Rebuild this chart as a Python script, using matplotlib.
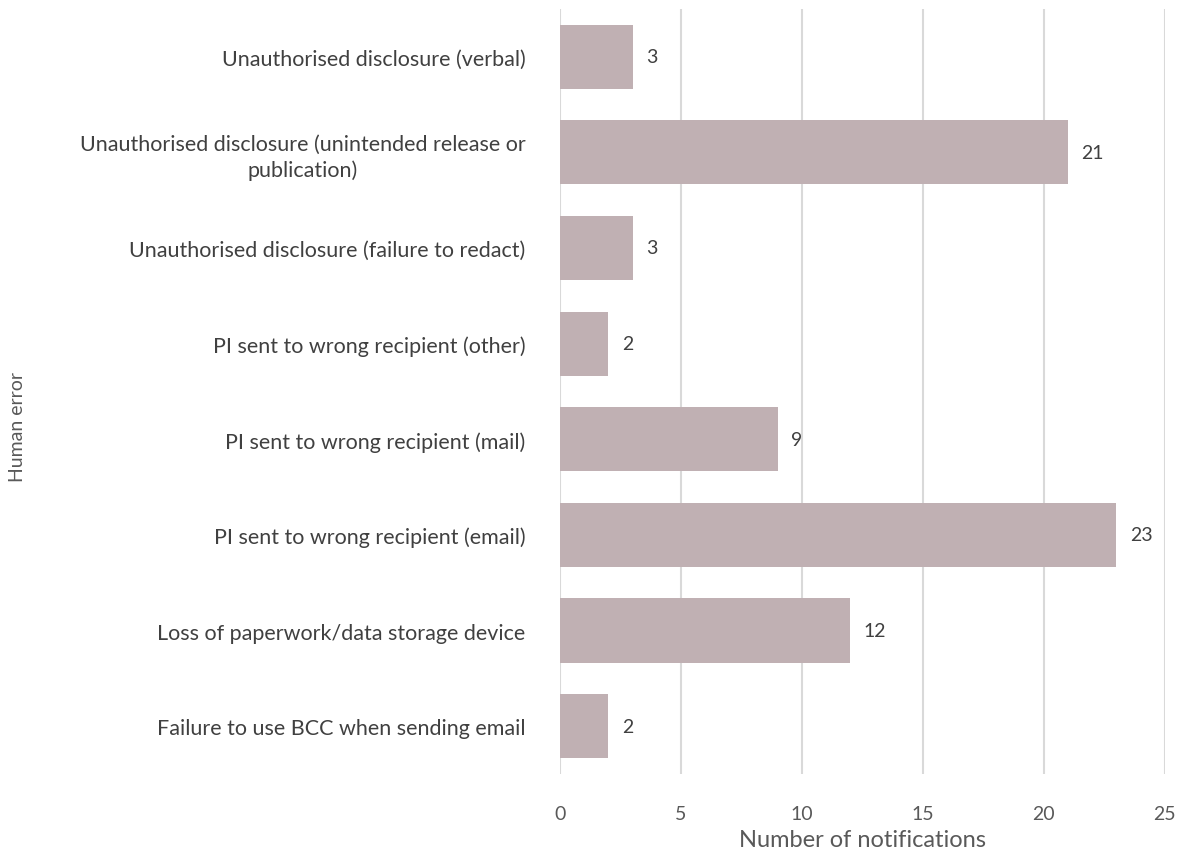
import matplotlib.pyplot as plt
import numpy as np

categorias = [
    "Unauthorised disclosure (verbal)",
    "Unauthorised disclosure (unintended release or\npublication)",
    "Unauthorised disclosure (failure to redact)",
    "PI sent to wrong recipient (other)",
    "PI sent to wrong recipient (mail)",
    "PI sent to wrong recipient (email)",
    "Loss of paperwork/data storage device",
    "Failure to use BCC when sending email",
]
valores = [3, 21, 3, 2, 9, 23, 12, 2]
ticks_x = [0, 5, 10, 15, 20, 25]

plt.rcParams['font.family'] = ['Lato', 'DejaVu Sans']

fig = plt.figure(figsize=(11.79, 8.54), dpi=100)
ax = fig.add_axes([0.475, 0.0925, 0.513, 0.896])

y = np.arange(len(categorias))
ax.barh(y, valores, height=0.67, color='#C0B0B3', zorder=3)

# rótulos com os valores
for i, v in enumerate(valores):
    ax.text(v + 0.55, i, str(v), va='center', ha='left', fontsize=14, color='#404040')

ax.set_ylim(len(categorias) - 0.5, -0.5)
ax.set_xlim(0, 25)
ax.set_xticks(ticks_x)
ax.set_yticks(y)
ax.set_yticklabels(categorias, fontsize=15.5, color='#404040', ha='right',
                   multialignment='center', linespacing=1.3)
ax.tick_params(axis='y', length=0, pad=25)
ax.tick_params(axis='x', length=0, pad=22, labelsize=14, labelcolor='#595959')

ax.grid(axis='x', color='#D9D9D9', linewidth=1.5, zorder=0)
for s in ax.spines.values():
    s.set_visible(False)

ax.set_xlabel('Number of notifications', fontsize=17, color='#595959', labelpad=5)
fig.text(0.015, 0.5, 'Human error', rotation=90, va='center', ha='center',
         fontsize=14, color='#595959')

fig.savefig('out.png', dpi=100)
